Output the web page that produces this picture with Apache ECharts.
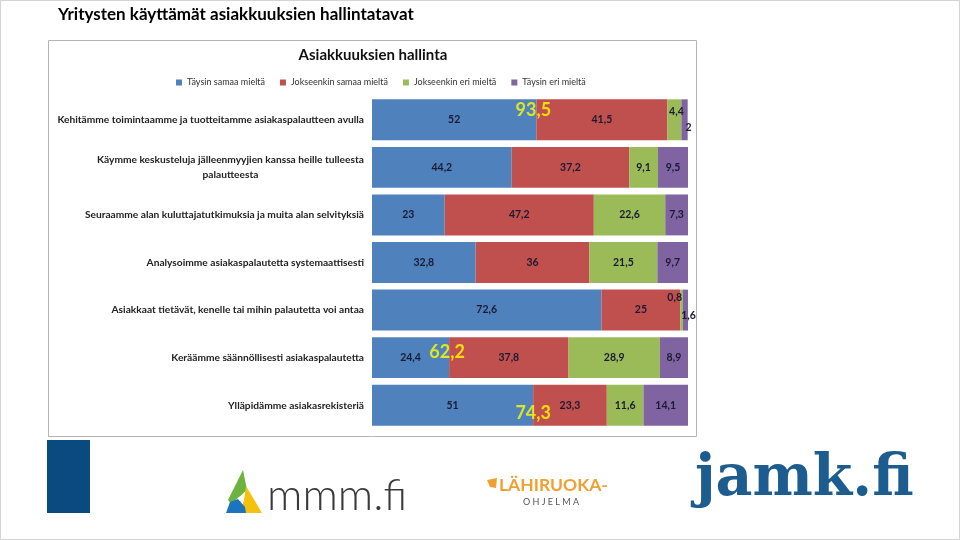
<!DOCTYPE html>
<html><head><meta charset="utf-8">
<script src="https://cdn.jsdelivr.net/npm/echarts@6/dist/echarts.min.js"></script>
<style>html,body{margin:0;padding:0;background:#fff}#c{width:960px;height:540px}</style>
</head><body><div id="c"></div>
<script>
const categories = [
  "Kehitämme toimintaamme ja tuotteitamme asiakaspalautteen avulla",
  "Käymme keskusteluja jälleenmyyjien kanssa heille tulleesta\npalautteesta",
  "Seuraamme alan kuluttajatutkimuksia ja muita alan selvityksiä",
  "Analysoimme asiakaspalautetta systemaattisesti",
  "Asiakkaat tietävät, kenelle tai mihin palautetta voi antaa",
  "Keräämme säännöllisesti asiakaspalautetta",
  "Ylläpidämme asiakasrekisteriä"
];
const seriesNames = ["Täysin samaa mieltä", "Jokseenkin samaa mieltä", "Jokseenkin eri mieltä", "Täysin eri mieltä"];
const taysinSamaa = [52, 44.2, 23, 32.8, 72.6, 24.4, 51];
const jokseenkinSamaa = [41.5, 37.2, 47.2, 36, 25, 37.8, 23.3];
const jokseenkinEri = [4.4, 9.1, 22.6, 21.5, 0.8, 28.9, 11.6];
const taysinEri = [2, 9.5, 7.3, 9.7, 1.6, 8.9, 14.1];
const highlightRows = [0, 5, 6];
const highlightTotals = [93.5, 62.2, 74.3];

const colors = ['#4F81BD', '#C0504D', '#9BBB59', '#8064A2'];
const FONT = 'Lato';
const CAT_FONT_SIZE = 10.2;
const fmt = v => String(v).replace('.', ',');

const mctx = document.createElement('canvas').getContext('2d');
mctx.font = 'bold ' + CAT_FONT_SIZE + 'px ' + FONT;

const labelTweaks = {
  '2-0': { offset: [2, -8] },
  '3-0': { offset: [4, 8] },
  '2-4': { offset: [-7, -12] },
  '3-4': { offset: [3, 6] }
};
const allSeries = [taysinSamaa, jokseenkinSamaa, jokseenkinEri, taysinEri];
const barSeries = allSeries.map((arr, si) => ({
  name: seriesNames[si],
  type: 'bar',
  stack: 'total',
  barCategoryGap: '14%',
  itemStyle: { color: colors[si] },
  label: {
    show: true, position: 'inside', color: '#1a1a33',
    fontFamily: FONT, fontWeight: 'bold', fontSize: 10.5,
    formatter: p => fmt(p.value)
  },
  data: arr.map((v, r) => {
    const t = labelTweaks[si + '-' + r];
    return t ? { value: v, label: t } : v;
  })
}));
const hlOffsets = [[-3, -10], [-2, -5], [0, 8]];
const hlSeries = {
  type: 'scatter', symbolSize: 0, z: 10, silent: true,
  data: highlightRows.map((r, i) => ({
    value: [taysinSamaa[r], r],
    label: { offset: hlOffsets[i], formatter: fmt(highlightTotals[i]) }
  })),
  label: {
    show: true, position: 'inside', color: '#FFFF00',
    fontFamily: FONT, fontWeight: 'bold', fontSize: 18
  }
};

const chart = echarts.init(document.getElementById('c'), null, { renderer: 'canvas' });
chart.setOption({
  animation: false,
  backgroundColor: '#ffffff',
  textStyle: { fontFamily: FONT },
  legend: {
    data: seriesNames, left: 171, top: 73, itemWidth: 6, itemHeight: 6, itemGap: 15,
    icon: 'rect', textStyle: { fontSize: 9, color: '#333', fontFamily: FONT }
  },
  grid: { left: 372, right: 272, top: 96, bottom: 111, containLabel: false },
  xAxis: { type: 'value', min: 0, max: 100, show: false },
  yAxis: {
    type: 'category', data: categories, inverse: true,
    axisLine: { show: false }, axisTick: { show: false },
    axisLabel: {
      margin: 8, fontSize: CAT_FONT_SIZE, fontWeight: 'bold', color: '#222', fontFamily: FONT,
      formatter: v => {
        if (v.indexOf('\n') < 0) return v;
        const lines = v.split('\n');
        const w = Math.ceil(Math.max(...lines.map(s => mctx.measureText(s).width)));
        return lines.map(s => '{c' + w + '|' + s + '}').join('\n');
      },
      rich: (() => {
        const r = {};
        categories.filter(c => c.indexOf('\n') >= 0).forEach(c => {
          const lines = c.split('\n');
          const w = Math.ceil(Math.max(...lines.map(s => mctx.measureText(s).width)));
          r['c' + w] = { width: w, align: 'center', fontSize: CAT_FONT_SIZE, fontWeight: 'bold', color: '#222', fontFamily: FONT, lineHeight: 15 };
        });
        return r;
      })()
    }
  },
  series: [...barSeries, hlSeries],
  graphic: [
    { type: 'rect', shape: { x: 0.5, y: 0.5, width: 959, height: 539 }, style: { fill: 'none', stroke: '#d4d4d4', lineWidth: 1 }, z: -1 },
    { type: 'text', left: 58, top: 6, style: { text: 'Yritysten käyttämät asiakkuuksien hallintatavat', fill: '#000', font: 'bold 17px ' + FONT } },
    { type: 'rect', shape: { x: 48.5, y: 40.5, width: 648, height: 396 }, style: { fill: 'none', stroke: '#b4b4b4', lineWidth: 1 }, z: -1 },
    { type: 'text', x: 373, y: 48, style: { text: 'Asiakkuuksien hallinta', fill: '#111', font: 'bold 15px ' + FONT, textAlign: 'center' } },
    { type: 'rect', shape: { x: 47, y: 440, width: 43, height: 73 }, style: { fill: '#0B4A7E' } },
    // mmm.fi logo
    { type: 'polygon', shape: { points: [[243, 470], [247, 490], [231, 504], [228, 500]] }, style: { fill: '#6DB33F' } },
    { type: 'polygon', shape: { points: [[246, 486], [262, 513], [240, 513], [244, 500]] }, style: { fill: '#F4C20D' } },
    { type: 'polygon', shape: { points: [[226, 513], [230, 502], [238, 499], [245, 507], [246, 513]] }, style: { fill: '#1E73BE' } },
    { type: 'text', x: 267, y: 474, style: { text: 'mmm.fi', fill: '#3a3a3a', font: '300 44px ' + FONT } },
    // Lähiruoka logo
    { type: 'polygon', shape: { points: [[487, 480], [497, 478], [496, 488], [490, 487]] }, style: { fill: '#F0A030' } },
    { type: 'text', x: 499, y: 476, style: { text: 'LÄHIRUOKA-', fill: '#F0A030', font: 'bold 17.5px ' + FONT } },
    { type: 'text', x: 551, y: 498, style: { text: 'O H J E L M A', fill: '#555', font: '9px ' + FONT, textAlign: 'center' } },
    // jamk.fi logo
    { type: 'text', x: 695, y: 452, style: { text: 'jamk.fi', fill: '#1D5C8E', font: 'bold 57px "DejaVu Serif"' } }
  ]
});
</script></body></html>
